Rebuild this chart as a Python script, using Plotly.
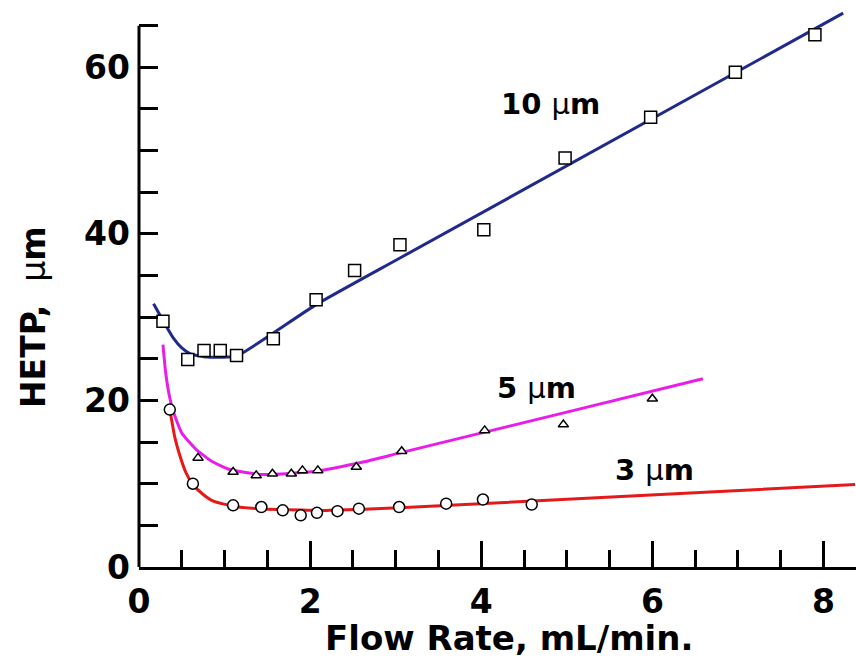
import plotly.graph_objects as go

# ---- data ----
# 10 um particles (squares)
x10 = [0.28, 0.57, 0.76, 0.95, 1.14, 1.57, 2.07, 2.52, 3.05, 4.03, 4.98, 5.98, 6.97, 7.90]
y10 = [29.5, 24.9, 26.0, 26.0, 25.4, 27.4, 32.1, 35.6, 38.7, 40.5, 49.1, 54.0, 59.4, 63.9]
# fitted curve 10 um
fx10 = [0.17, 0.28, 0.40, 0.50, 0.60, 0.80, 1.00, 1.14, 2.07, 3.05, 8.23]
fy10 = [31.6, 29.6, 27.5, 26.3, 25.6, 25.2, 25.2, 25.3, 31.5, 37.1, 66.5]

# 5 um particles (triangles)
x5 = [0.69, 1.10, 1.37, 1.56, 1.78, 1.91, 2.09, 2.54, 3.07, 4.04, 4.96, 6.00]
y5 = [13.1, 11.4, 11.0, 11.2, 11.2, 11.6, 11.6, 12.0, 13.9, 16.4, 17.1, 20.2]
fx5 = [0.28, 0.31, 0.35, 0.40, 0.50, 0.67, 0.85, 1.06, 1.45, 2.07, 2.62, 3.05, 5.00, 6.59]
fy5 = [26.7, 23.5, 20.8, 18.7, 16.1, 14.1, 12.7, 11.7, 11.1, 11.5, 12.6, 13.7, 18.6, 22.6]

# 3 um particles (circles)
x3 = [0.36, 0.63, 1.10, 1.43, 1.68, 1.89, 2.08, 2.32, 2.57, 3.04, 3.59, 4.02, 4.59]
y3 = [18.9, 10.0, 7.4, 7.2, 6.8, 6.2, 6.5, 6.7, 7.0, 7.2, 7.6, 8.1, 7.5]
fx3 = [0.36, 0.42, 0.48, 0.55, 0.63, 0.75, 0.87, 1.10, 1.40, 1.65, 2.23, 3.05, 8.37]
fy3 = [18.9, 15.5, 13.3, 11.3, 9.9, 8.7, 7.9, 7.3, 7.0, 6.9, 6.8, 7.1, 9.9]

labels = ["10 µm", "5 µm", "3 µm"]
label_x = [4.81, 4.65, 6.03]
label_y = [55.6, 21.5, 11.7]

x_title = "Flow Rate, mL/min."
y_title = "HETP,  µm"

BLUE = "#1f2a8a"
MAG = "#e81ee8"
RED = "#e41a1a"
FONT = "DejaVu Sans"

W, H = 856, 663
L, R, T, B = 139, 0, 9, 96
pw, ph = W - L - R, H - T - B

fig = go.Figure()

def add_series(fx, fy, xs, ys, color, symbol, size):
    fig.add_trace(go.Scatter(x=fx, y=fy, mode="lines",
                             line=dict(color=color, width=3, shape="spline", smoothing=0.5),
                             showlegend=False, hoverinfo="skip"))
    fig.add_trace(go.Scatter(x=xs, y=ys, mode="markers",
                             marker=dict(symbol=symbol, size=size, color="white",
                                         line=dict(color="black", width=1.5)),
                             showlegend=False))

add_series(fx10, fy10, x10, y10, BLUE, "square", 12)
add_series(fx5, fy5, x5, y5, MAG, "triangle-up", 9)
add_series(fx3, fy3, x3, y3, RED, "circle", 11)

for t, lx, ly in zip(labels, label_x, label_y):
    num, unit = t.split(" ")
    fig.add_annotation(x=lx, y=ly, xref="x", yref="y", showarrow=False,
                       xanchor="center", yanchor="middle",
                       text="<b>%s </b><span style='font-weight:normal'>%s</span><b>%s</b>" % (num, unit[0], unit[1:]),
                       font=dict(family=FONT, size=29, color="black"))

def px_to_paper(px, py):
    return (px - L) / pw, (H - B - py) / ph

ax, ay = px_to_paper(509, 638)
fig.add_annotation(x=ax, y=ay, xref="paper", yref="paper", showarrow=False,
                   xanchor="center", yanchor="middle",
                   text="<b>" + x_title + "</b>", font=dict(family=FONT, size=34, color="black"))
yt_a, yt_b = y_title.split("µ")
bx, by = px_to_paper(33, 317)
fig.add_annotation(x=bx, y=by, xref="paper", yref="paper", showarrow=False, textangle=-90,
                   xanchor="center", yanchor="middle",
                   text="<b>%s</b><span style='font-weight:normal'>µ</span><b>%s</b>" % (yt_a, yt_b),
                   font=dict(family=FONT, size=33, color="black"))

# y axis line up to 65
fig.add_shape(type="line", xref="paper", yref="y", x0=0, x1=0, y0=0, y1=65,
              line=dict(color="black", width=3))

fig.update_layout(
    width=W, height=H,
    margin=dict(l=L, r=R, t=T, b=B),
    plot_bgcolor="white", paper_bgcolor="white",
    xaxis=dict(range=[0, 8.38], showgrid=False, zeroline=False,
               showline=True, linecolor="black", linewidth=3,
               ticks="inside", ticklen=26, tickwidth=3, tickcolor="black",
               tick0=0, dtick=2,
               minor=dict(ticks="inside", ticklen=17, tickwidth=3, tickcolor="black", dtick=0.5, tick0=0),
               tickfont=dict(family=FONT, size=33, color="black", weight="bold"),
               ticklabelstandoff=3),
    yaxis=dict(range=[0, 67], showgrid=False, zeroline=False, showline=False,
               ticks="inside", ticklen=19, tickwidth=3, tickcolor="black",
               tick0=0, dtick=20,
               minor=dict(ticks="inside", ticklen=19, tickwidth=3, tickcolor="black", dtick=5, tick0=0),
               tickfont=dict(family=FONT, size=33, color="black", weight="bold"),
               ticklabelstandoff=8),
)

fig.write_html("out.html")
